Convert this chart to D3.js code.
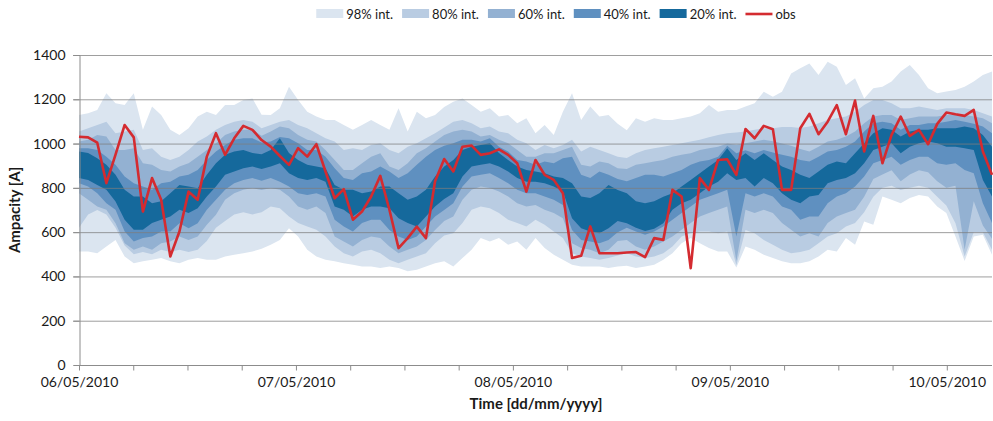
<!DOCTYPE html>
<html><head><meta charset="utf-8">
<script src="https://cdn.jsdelivr.net/npm/d3@7"></script>
<style>
body{margin:0;background:#fff}
text{font-family:Lato,"Open Sans",sans-serif;fill:#1a1a1a}
</style>
</head><body>
<svg id="chart" width="993" height="421"></svg>
<script>
// ---- data (hourly, starting 06/05/2010 00:00) ----
const dateLabels = ["06/05/2010","07/05/2010","08/05/2010","09/05/2010","10/05/2010"];
const labelHours = [0,24,48,72,96];
const yTicks = [0,200,400,600,800,1000,1200,1400];
const legendLabels = ["98% int.","80% int.","60% int.","40% int.","20% int.","obs"];

const obs = [1031,1028,1004,821,950,1084,1028,693,844,746,490,603,783,746,941,1047,949,1024,1080,1062,1016,
986,944,904,979,941,997,874,753,794,656,693,761,854,701,528,573,625,573,830,930,
874,986,991,949,956,974,949,911,783,926,859,836,776,483,493,626,505,505,505,508,
510,487,573,565,791,761,437,844,791,926,929,859,1066,1024,1080,1065,791,791,1069,1134,
1042,1099,1174,1042,1194,964,1125,911,1039,1122,1035,1062,997,1089,1140,1132,1125,1152,964,859];

const hi98 = [1129,1137,1152,1227,1182,1174,1227,1062,1167,1129,1062,1039,1069,1122,1144,1129,1174,1174,1197,1204,1130,
1129,1159,1257,1197,1144,1122,1107,1107,1084,1062,1084,1107,1084,1062,1159,1054,1144,1114,1129,1165,
1189,1204,1174,1144,1159,1122,1129,1092,1114,1047,1084,1039,1144,1227,1107,1167,1122,1129,1090,1060,
1114,1099,1114,1107,1107,1114,1122,1137,1174,1144,1152,1152,1167,1182,1234,1212,1234,1317,1340,1362,
1310,1370,1347,1265,1295,1204,1250,1257,1280,1325,1355,1310,1250,1227,1235,1242,1257,1280,1310,1325];
const hi80 = [1054,1069,1084,1099,1047,1054,1062,971,979,941,926,941,971,1009,1032,1062,1084,1099,1107,1099,1069,
1084,1099,1107,1084,1069,1047,1024,1009,971,979,971,994,1002,971,956,986,1002,1024,1047,1073,
1099,1107,1092,1069,1077,1054,1047,1017,1002,971,994,979,994,1017,964,986,971,956,940,935,
956,971,979,986,994,1002,1009,1017,1029,1039,1047,1050,1054,1062,1069,1069,1075,1075,1070,1077,
1092,1107,1114,1122,1144,1174,1197,1197,1182,1159,1159,1167,1159,1152,1159,1159,1159,1152,1137,1122];
const hi60 = [1009,1017,1039,1032,971,971,979,911,904,881,874,896,911,941,971,1002,1039,1054,1062,1062,1035,
1054,1077,1069,1039,1017,1009,971,926,881,881,911,941,956,896,881,911,956,979,1009,1039,
1054,1062,1054,1032,1039,1017,1002,971,941,941,956,956,971,986,904,896,919,911,889,885,
904,911,919,926,941,949,956,971,979,986,1000,994,1002,1009,1017,1010,1000,990,975,964,
986,1009,1017,1032,1054,1092,1122,1129,1129,1107,1114,1122,1122,1122,1129,1129,1129,1122,1114,1092];
const hi40 = [979,979,971,941,904,851,821,806,791,821,828,851,859,881,926,964,994,1017,1024,1024,1005,
1009,1030,1024,1002,971,971,941,889,844,836,866,874,896,874,844,866,904,941,971,990,
1002,1017,1017,1009,1024,986,964,926,919,904,919,911,934,941,859,844,874,859,840,830,
844,859,859,851,866,881,904,919,926,941,990,956,970,956,971,960,950,940,926,919,
941,964,971,986,1009,1054,1092,1099,1092,1062,1084,1084,1092,1092,1099,1107,1099,1089,1077,1047];
const hi20 = [964,957,934,904,859,791,761,761,731,739,776,813,806,798,859,911,949,964,971,957,952,
971,1024,957,926,904,896,889,813,791,791,776,783,806,806,776,746,761,791,851,896,
926,971,986,994,1002,957,926,896,881,874,866,851,844,821,761,754,776,813,790,776,
740,730,740,760,776,806,836,866,896,926,979,926,956,926,956,926,896,881,859,844,
874,904,919,911,956,1002,1047,1069,1062,1032,1054,1062,1062,1069,1069,1069,1077,1069,1039,986];
const lo20 = [844,836,813,791,738,656,611,611,641,656,671,701,686,708,761,806,859,874,889,896,885,
896,911,866,844,836,844,828,716,701,671,701,716,716,708,663,641,626,671,716,750,
776,851,896,904,911,896,874,844,828,828,821,806,783,663,618,603,595,618,650,640,
620,605,615,640,701,731,746,776,806,828,866,836,844,806,844,821,776,746,731,761,
768,821,836,844,866,911,971,986,1002,956,986,1002,1009,1002,986,986,979,971,836,761];
const lo40 = [821,806,776,731,701,603,558,573,580,603,603,640,618,640,701,746,791,821,836,844,832,
844,828,806,776,768,776,761,656,626,603,641,656,656,610,580,565,580,626,671,700,
731,806,851,859,866,844,821,791,776,776,761,746,723,610,565,558,550,565,600,620,
603,588,603,626,656,686,716,746,761,776,791,580,776,761,776,761,716,701,656,671,
671,731,761,776,806,851,911,926,941,904,926,941,941,911,904,911,881,866,731,641];
const lo60 = [776,746,716,701,640,550,520,535,520,550,558,580,565,580,633,678,746,776,791,799,790,
799,791,761,716,701,716,686,580,558,535,565,580,573,535,505,520,535,565,610,650,
671,746,791,806,799,783,761,731,716,723,701,686,663,550,528,520,505,520,560,565,
535,520,535,558,580,611,641,671,686,701,716,470,701,686,701,686,641,611,580,595,
580,641,671,686,701,760,840,860,880,830,860,880,870,830,800,810,520,740,630,570];
const lo80 = [620,680,700,680,620,540,500,510,500,520,510,520,510,520,560,620,650,680,690,680,690,
716,708,671,641,626,611,580,535,505,490,513,520,505,475,460,475,490,505,550,585,
595,641,701,716,708,686,656,641,626,656,633,603,573,505,490,483,475,483,495,505,
490,483,490,505,535,580,595,603,603,595,603,450,610,595,565,543,520,505,510,520,
550,580,595,626,641,690,760,800,810,790,800,810,800,760,720,640,490,600,600,520];
const lo98 = [513,513,505,535,565,490,460,468,475,483,468,460,475,483,475,475,490,498,505,513,525,
543,565,618,580,520,490,475,468,460,453,445,445,438,445,438,423,430,445,460,468,
445,483,520,573,558,573,543,558,520,573,528,498,475,453,445,445,445,438,445,448,
438,445,453,475,505,550,573,550,528,513,513,440,535,520,498,483,468,460,460,468,
490,520,513,573,543,648,633,761,746,731,754,768,761,716,686,580,470,580,588,498];

const bandColors = ["#dbe5f0","#b9cce2","#93b1d2","#5f90c0","#15699c"];
const obsColor = "#d42b30";

// ---- layout ----
const svg = d3.select("#chart");
const x = d3.scaleLinear().domain([0, obs.length - 1]).range([79, 992]);
// time axis of the reference: day ticks at ~217 px spacing
const xTime = d3.scaleLinear().domain([0, 101]).range([79, 992]);
const y = d3.scaleLinear().domain([0, 1400]).range([365, 55]);

const bands = [[lo98,hi98],[lo80,hi80],[lo60,hi60],[lo40,hi40],[lo20,hi20]];
const area = (lo, hi) => d3.area()
  .x((d,i) => x(i)).y0((d,i) => y(lo[i])).y1((d,i) => y(hi[i]))(lo);

bands.forEach(([lo,hi], k) => {
  svg.append("path").attr("d", area(lo,hi)).attr("fill", bandColors[k]);
});

// gridlines
svg.append("g").selectAll("line").data(yTicks.filter(v => v > 0)).join("line")
  .attr("x1", 73).attr("x2", 992).attr("y1", d => y(d) + 0.5).attr("y2", d => y(d) + 0.5)
  .attr("stroke", "#7d7d7d").attr("stroke-opacity", 0.75).attr("stroke-width", 1);

// y axis
const yAxis = d3.axisLeft(y).tickValues(yTicks).tickSize(6).tickPadding(8).tickFormat(d3.format("d"));
const gy = svg.append("g").attr("transform", "translate(79.5,0)").call(yAxis);
gy.select(".domain").attr("stroke", "#8c8c8c");
gy.selectAll(".tick line").attr("stroke", "#8c8c8c");
gy.selectAll(".tick text").style("font-size", "14px").style("font-family", "Lato, sans-serif").attr("fill", "#1a1a1a");

// x axis
const xTickHours = d3.range(0, 101, 6);
const labelMap = new Map(labelHours.map((h, i) => [h, dateLabels[i]]));
const xAxis = d3.axisBottom(xTime).tickValues(xTickHours).tickSize(5).tickPadding(7)
  .tickFormat(h => labelMap.get(h) || "");
const gx = svg.append("g").attr("transform", "translate(0,365.5)").call(xAxis);
gx.select(".domain").attr("stroke", "#8c8c8c").attr("d", `M79,0H992`);
gx.selectAll(".tick line").attr("stroke", "#8c8c8c");
gx.selectAll(".tick text").style("font-size", "14px").style("font-family", "Lato, sans-serif").attr("fill", "#1a1a1a");

// obs line
svg.append("path")
  .attr("d", d3.line().x((d,i) => x(i)).y(d => y(d))(obs))
  .attr("fill", "none").attr("stroke", obsColor).attr("stroke-width", 2.6)
  .attr("stroke-linejoin", "round");

// axis titles
svg.append("text").attr("transform", "translate(20,210) rotate(-90)")
  .attr("text-anchor", "middle").style("font-size", "15px").style("font-weight", "bold")
  .text("Ampacity [A]");
svg.append("text").attr("x", 536).attr("y", 409)
  .attr("text-anchor", "middle").style("font-size", "15px").style("font-weight", "bold")
  .text("Time [dd/mm/yyyy]");

// legend
const lg = svg.append("g");
let cx = 0;
legendLabels.forEach((lab, i) => {
  const g = lg.append("g").attr("transform", `translate(${cx},0)`);
  if (i < 5) {
    g.append("rect").attr("x", 0).attr("y", -5).attr("width", 27).attr("height", 9).attr("fill", bandColors[i]);
  } else {
    g.append("line").attr("x1", 0).attr("x2", 27).attr("y1", 0).attr("y2", 0)
      .attr("stroke", obsColor).attr("stroke-width", 2.6);
  }
  const t = g.append("text").attr("x", 30).attr("y", 4.5).style("font-size", "13px").text(lab);
  cx += 30 + t.node().getComputedTextLength() + 9;
});
const lw = cx - 9;
lg.attr("transform", `translate(${556 - lw/2},14)`);
</script>
</body></html>
